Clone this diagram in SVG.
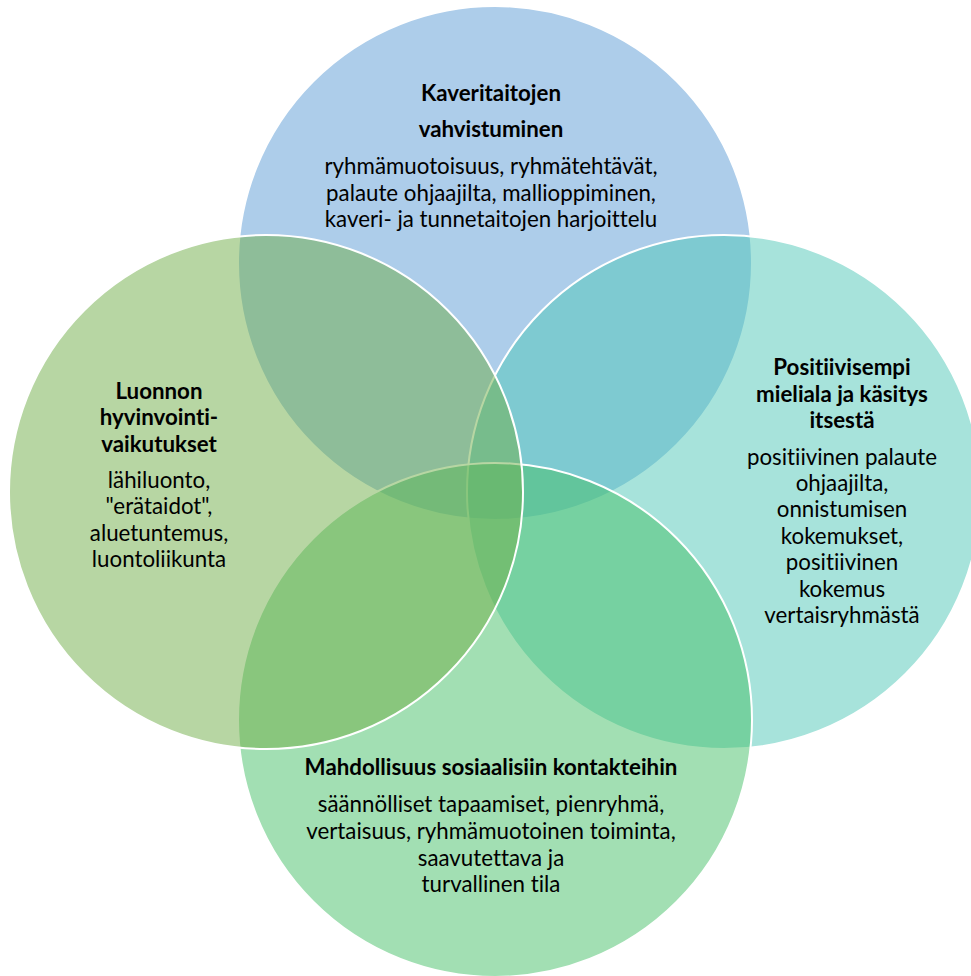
<svg xmlns="http://www.w3.org/2000/svg" width="971" height="976" viewBox="0 0 971 976">
<style>
.c{fill-opacity:0.5;stroke:#ffffff;stroke-width:2}
.t{font-family:Lato,"Liberation Sans",sans-serif;font-size:22.3px;fill:#000000;text-anchor:middle;font-variant-ligatures:none}
.b{font-weight:bold}
</style>
<rect width="971" height="976" fill="#ffffff"/>
<g id="node-top">
<circle class="c" cx="495" cy="263" r="257" fill="#5B9BD5"/>
<text class="t b" x="491" y="101">Kaveritaitojen</text>
<text class="t b" x="491" y="137">vahvistuminen</text>
<text class="t" x="491" y="174">ryhmämuotoisuus, ryhmätehtävät,</text>
<text class="t" x="491" y="201">palaute ohjaajilta, mallioppiminen,</text>
<text class="t" x="491" y="227">kaveri- ja tunnetaitojen harjoittelu</text>
</g>
<g id="node-right">
<circle class="c" cx="724" cy="492" r="257" fill="#4FC7B8"/>
<text class="t b" x="842" y="375">Positiivisempi</text>
<text class="t b" x="842" y="402">mieliala ja käsitys</text>
<text class="t b" x="842" y="428">itsestä</text>
<text class="t" x="842" y="465">positiivinen palaute</text>
<text class="t" x="842" y="491">ohjaajilta,</text>
<text class="t" x="842" y="517">onnistumisen</text>
<text class="t" x="842" y="544">kokemukset,</text>
<text class="t" x="842" y="570">positiivinen</text>
<text class="t" x="842" y="597">kokemus</text>
<text class="t" x="842" y="623">vertaisryhmästä</text>
</g>
<g id="node-bottom">
<circle class="c" cx="495" cy="720" r="257" fill="#46BF67"/>
<text class="t b" x="491" y="775">Mahdollisuus sosiaalisiin kontakteihin</text>
<text class="t" x="491" y="812">säännölliset tapaamiset, pienryhmä,</text>
<text class="t" x="491" y="839">vertaisuus, ryhmämuotoinen toiminta,</text>
<text class="t" x="491" y="866">saavutettava ja</text>
<text class="t" x="491" y="892">turvallinen tila</text>
</g>
<g id="node-left">
<circle class="c" cx="266" cy="492" r="257" fill="#70AD47"/>
<text class="t b" x="159" y="399">Luonnon</text>
<text class="t b" x="159" y="425">hyvinvointi-</text>
<text class="t b" x="159" y="452">vaikutukset</text>
<text class="t" x="159" y="488">lähiluonto,</text>
<text class="t" x="159" y="514">"erätaidot",</text>
<text class="t" x="159" y="541">aluetuntemus,</text>
<text class="t" x="159" y="567">luontoliikunta</text>
</g>
<g id="connectors"></g>
</svg>
